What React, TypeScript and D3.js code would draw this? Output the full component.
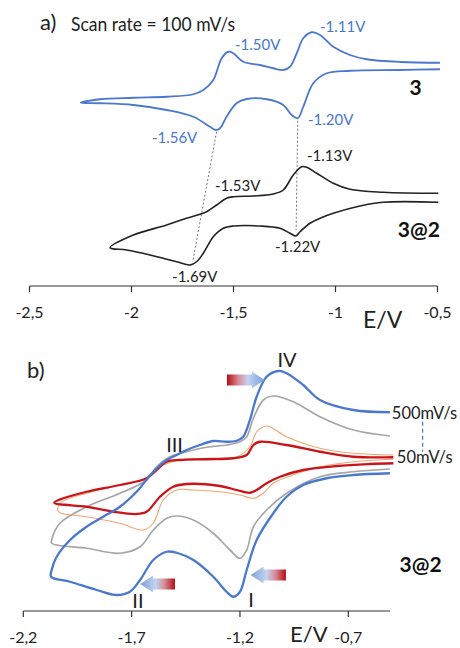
import React from 'react';
import * as d3 from 'd3';

type P = [number, number];

// ---------- Panel a) data (E in V, current in arbitrary units, stacked) ----------
const topTicks = [-2.5, -2, -1.5, -1, -0.5];
const botTicks = [-2.2, -1.7, -1.2, -0.7];

// compound 3 : from right end of upper branch -> left vertex -> right end of lower branch
const cv3: P[] = [
  [-0.488, 34.9], [-0.684, 35.2], [-0.848, 36.3], [-0.929, 38.0], [-1.011, 41.3], [-1.076, 46.0],
  [-1.117, 47.1], [-1.158, 44.7], [-1.190, 38.7], [-1.223, 33.3], [-1.256, 32.0], [-1.305, 32.7],
  [-1.370, 34.0], [-1.452, 35.3], [-1.501, 38.7], [-1.525, 39.3], [-1.558, 36.7], [-1.599, 28.0],
  [-1.648, 24.0], [-1.697, 22.3], [-1.828, 21.3], [-1.991, 20.9], [-2.154, 20.3], [-2.249, 18.9],
  [-2.154, 18.7], [-1.991, 18.0], [-1.828, 16.0], [-1.697, 13.3], [-1.615, 9.3], [-1.586, 8.0],
  [-1.566, 8.7], [-1.534, 13.3], [-1.485, 18.7], [-1.435, 20.4], [-1.337, 20.3], [-1.256, 18.0],
  [-1.215, 14.0], [-1.185, 12.7], [-1.158, 17.3], [-1.109, 26.7], [-1.043, 30.7], [-0.929, 31.7],
  [-0.684, 32.0], [-0.488, 32.3],
];

// 3@2
const cv32: P[] = [
  [-0.496, -17.3], [-0.766, -16.9], [-0.929, -15.7], [-1.011, -13.3], [-1.092, -9.3], [-1.141, -6.9],
  [-1.166, -6.7], [-1.207, -10.0], [-1.256, -16.0], [-1.305, -17.6], [-1.403, -18.4], [-1.501, -18.7],
  [-1.534, -19.3], [-1.583, -22.0], [-1.632, -24.7], [-1.664, -25.7], [-1.730, -27.3], [-1.828, -30.0],
  [-1.991, -34.0], [-2.105, -39.1],
  [-2.024, -40.0], [-1.909, -42.0], [-1.779, -44.7], [-1.713, -46.0], [-1.681, -44.7], [-1.648, -41.3],
  [-1.599, -34.7], [-1.550, -31.3], [-1.501, -30.4], [-1.370, -30.4], [-1.272, -31.3], [-1.223, -33.3],
  [-1.194, -34.4], [-1.174, -32.7], [-1.125, -29.3], [-1.076, -27.3], [-1.011, -25.3], [-0.880, -22.4],
  [-0.766, -20.9], [-0.496, -20.9],
];

const topPeakLabels = [
  { text: '-1.50V', E: -1.493, I: 40.0, series: '3' },
  { text: '-1.11V', E: -1.076, I: 47.2, series: '3' },
  { text: '-1.20V', E: -1.135, I: 10.0, series: '3' },
  { text: '-1.56V', E: -1.900, I: 2.8, series: '3' },
  { text: '-1.13V', E: -1.140, I: -4.4, series: '3@2' },
  { text: '-1.53V', E: -1.591, I: -16.4, series: '3@2' },
  { text: '-1.22V', E: -1.297, I: -40.8, series: '3@2' },
  { text: '-1.69V', E: -1.801, I: -52.8, series: '3@2' },
];

const guideLines = [
  { E1: -1.583, I1: 7.3, E2: -1.700, I2: -44.7 },
  { E1: -1.185, I1: 11.7, E2: -1.193, I2: -32.0 },
];

// ---------- Panel b) data (scan rates) ----------
const cv500: P[] = [
  [-0.508, 27.1], [-0.677, 28.0], [-0.831, 32.0], [-0.908, 38.0], [-0.985, 42.7], [-1.023, 43.6],
  [-1.077, 41.3], [-1.123, 33.3], [-1.154, 24.0], [-1.185, 17.3], [-1.215, 15.7], [-1.262, 15.3],
  [-1.323, 15.6], [-1.385, 14.0], [-1.446, 12.0], [-1.492, 10.0], [-1.538, 8.0], [-1.600, 3.3],
  [-1.677, -4.7], [-1.754, -10.7], [-1.831, -14.7], [-1.908, -18.7], [-1.984, -24.0], [-2.046, -30.7],
  [-2.069, -36.0], [-2.072, -38.7],
  [-1.984, -40.7], [-1.861, -44.0], [-1.769, -46.0], [-1.708, -44.7], [-1.661, -40.0], [-1.600, -32.0],
  [-1.538, -28.7], [-1.492, -29.1], [-1.415, -32.0], [-1.323, -38.7], [-1.262, -44.7], [-1.231, -46.7],
  [-1.200, -44.7], [-1.169, -36.0], [-1.123, -24.0], [-1.046, -13.3], [-0.985, -6.7], [-0.908, -2.0],
  [-0.800, 0.7], [-0.677, 2.0], [-0.508, 2.7],
];

const cv200: P[] = [
  [-0.508, 17.6], [-0.677, 20.0], [-0.831, 25.3], [-0.954, 31.3], [-1.046, 33.6], [-1.092, 32.0],
  [-1.138, 24.7], [-1.169, 17.3], [-1.200, 15.3], [-1.262, 14.0], [-1.354, 13.1], [-1.446, 11.3],
  [-1.523, 9.3], [-1.585, 5.3], [-1.631, 0.0], [-1.754, -5.3], [-1.908, -10.7], [-2.031, -17.3],
  [-2.069, -24.0], [-2.069, -25.3],
  [-1.908, -27.3], [-1.754, -29.3], [-1.661, -26.7], [-1.600, -20.0], [-1.538, -15.3], [-1.492, -14.4],
  [-1.415, -16.0], [-1.323, -21.3], [-1.246, -28.0], [-1.200, -31.3], [-1.169, -28.0], [-1.138, -18.7],
  [-1.077, -12.0], [-0.985, -5.3], [-0.831, 1.3], [-0.677, 3.3], [-0.508, 4.4],
];

const cv100: P[] = [
  [-0.492, 10.0], [-0.677, 10.7], [-0.831, 12.7], [-0.985, 17.3], [-1.077, 21.6], [-1.123, 19.3],
  [-1.154, 13.3], [-1.215, 9.3], [-1.354, 8.7], [-1.477, 8.0], [-1.569, 5.3], [-1.631, 0.7],
  [-1.754, -2.0], [-1.908, -5.3], [-2.031, -9.3], [-2.038, -12.7],
  [-1.908, -14.7], [-1.754, -17.3], [-1.646, -20.0], [-1.600, -17.3], [-1.554, -8.0], [-1.492, -4.0],
  [-1.415, -4.0], [-1.292, -4.7], [-1.200, -6.0], [-1.138, -7.3], [-1.092, -5.3], [-1.046, -1.3],
  [-0.954, 2.0], [-0.831, 5.3], [-0.677, 7.3], [-0.492, 8.3],
];

const cv50: P[] = [
  [-0.492, 9.1], [-0.677, 9.3], [-0.831, 11.3], [-0.985, 14.0], [-1.108, 15.3], [-1.138, 14.0],
  [-1.169, 10.0], [-1.231, 8.7], [-1.354, 8.3], [-1.477, 8.0], [-1.538, 7.3], [-1.585, 4.0],
  [-1.631, 0.7], [-1.754, -2.0], [-1.908, -4.7], [-2.015, -7.3], [-2.057, -9.1],
  [-1.908, -10.7], [-1.785, -12.7], [-1.677, -13.6], [-1.631, -12.7], [-1.569, -6.7], [-1.508, -2.7],
  [-1.446, -1.6], [-1.292, -2.4], [-1.215, -4.0], [-1.154, -5.1], [-1.123, -4.0], [-1.077, -1.3],
  [-1.015, 1.3], [-0.908, 4.0], [-0.754, 5.6], [-0.600, 6.4], [-0.492, 6.7],
];

const romanLabels = [
  { text: 'IV', E: -0.983, I: 45.2 },
  { text: 'III', E: -1.502, I: 11.2 },
  { text: 'II', E: -1.671, I: -51.2 },
  { text: 'I', E: -1.149, I: -50.8 },
];

const arrows = [
  { tail: [-1.260, 40.0] as P, tip: [-1.085, 40.0] as P },
  { tail: [-1.500, -41.6] as P, tip: [-1.661, -41.6] as P },
  { tail: [-0.988, -38.0] as P, tip: [-1.151, -38.0] as P },
];

const rateLabels = [
  { text: '500mV/s', E: -0.499, I: 24.4 },
  { text: '50mV/s', E: -0.476, I: 6.8 },
];
const rateBracket = { E: -0.357, I1: 23.3, I2: 11.3 };
const botAxisEnd = -0.508;

// ---------- styling ----------
const BLUE = '#4a78cf';
const FONT = 'Lato, "Open Sans", "Noto Sans", sans-serif';

const xTop = d3.scaleLinear().domain([-2.5, -0.5]).range([29.5, 437.5]);
const yTop = d3.scaleLinear().domain([-60, 60]).range([300, 0]);
const xBot = d3.scaleLinear().domain([-2.2, -0.7]).range([23.3, 348.3]);
const yBot = d3.scaleLinear().domain([-60, 60]).range([630, 330]);
const TOP_AXIS_Y = 286;
const BOT_AXIS_Y = 611;

const fmt = (t: number) => String(t).replace('.', ',');

function lineFor(xs: d3.ScaleLinear<number, number>, ys: d3.ScaleLinear<number, number>) {
  return d3
    .line<P>()
    .x((d) => xs(d[0]))
    .y((d) => ys(d[1]))
    .curve(d3.curveCatmullRom.alpha(0.5));
}

function arrowPath(x0: number, x1: number, y: number) {
  const dir = x1 > x0 ? 1 : -1;
  const bh = 5.5, hh = 8.5, hl = 13;
  const xb = x1 - dir * hl;
  return `M${x0},${y - bh}L${xb},${y - bh}L${xb},${y - hh}L${x1},${y}L${xb},${y + hh}L${xb},${y + bh}L${x0},${y + bh}Z`;
}

export default function App() {
  const lt = lineFor(xTop, yTop);
  const lb = lineFor(xBot, yBot);
  return (
    <svg
      width={460}
      height={648}
      style={{ position: 'absolute', left: 0, top: 0, background: '#fff' }}
      fontFamily={FONT}
    >
      <defs>
        {arrows.map((a, i) => (
          <linearGradient
            key={i}
            id={`ag${i}`}
            gradientUnits="userSpaceOnUse"
            x1={xBot(a.tail[0])}
            x2={xBot(a.tip[0])}
            y1={0}
            y2={0}
          >
            <stop offset="0" stopColor="#b50d12" />
            <stop offset="0.3" stopColor="#d88a98" />
            <stop offset="0.55" stopColor="#c4d3ef" />
            <stop offset="1" stopColor="#7aa0dc" />
          </linearGradient>
        ))}
      </defs>

      {/* ---------- Panel a ---------- */}
      <text x={40} y={30} fontSize={22} fill="#222">a)</text>
      <text x={71} y={31} fontSize={19} textLength={164} lengthAdjust="spacingAndGlyphs" fill="#222">
        Scan rate = 100 mV/s
      </text>

      {guideLines.map((g, i) => (
        <line
          key={i}
          x1={xTop(g.E1)}
          y1={yTop(g.I1)}
          x2={xTop(g.E2)}
          y2={yTop(g.I2)}
          stroke="#777"
          strokeWidth={1}
          strokeDasharray="2,2"
        />
      ))}
      <path d={lt(cv3) || ''} fill="none" stroke={BLUE} strokeWidth={1.8} />
      <path d={lt(cv32) || ''} fill="none" stroke="#222" strokeWidth={1.6} />

      {topPeakLabels.map((l, i) => (
        <text
          key={i}
          x={xTop(l.E)}
          y={yTop(l.I)}
          fontSize={15}
          fill={l.series === '3' ? BLUE : '#222'}
        >
          {l.text}
        </text>
      ))}
      <text x={xTop(-0.577)} y={yTop(22)} fontSize={21} fontWeight="bold" textAnchor="end" fill="#111">3</text>
      <text x={xTop(-0.488)} y={yTop(-34.9)} fontSize={21} fontWeight="bold" textAnchor="end" fill="#111">3@2</text>

      {/* top axis */}
      <g stroke="#333" strokeWidth={1.2}>
        <line x1={xTop.range()[0]} x2={xTop.range()[1]} y1={TOP_AXIS_Y} y2={TOP_AXIS_Y} />
        {topTicks.map((t) => (
          <line key={t} x1={xTop(t)} x2={xTop(t)} y1={TOP_AXIS_Y} y2={TOP_AXIS_Y + 6} />
        ))}
      </g>
      {topTicks.map((t) => (
        <text key={t} x={xTop(t)} y={TOP_AXIS_Y + 32} fontSize={16} textAnchor="middle" fill="#222">
          {fmt(t)}
        </text>
      ))}
      <text x={363} y={328} fontSize={23} fill="#222">E/V</text>

      {/* ---------- Panel b ---------- */}
      <text x={27} y={378} fontSize={22} fill="#222">b)</text>

      <path d={lb(cv200) || ''} fill="none" stroke="#a6a6a6" strokeWidth={1.7} />
      <path d={lb(cv100) || ''} fill="none" stroke="#f3a46f" strokeWidth={1.1} />
      <path d={lb(cv50) || ''} fill="none" stroke="#c9141a" strokeWidth={2.3} />
      <path d={lb(cv500) || ''} fill="none" stroke={BLUE} strokeWidth={2.3} />

      {arrows.map((a, i) => (
        <path key={i} d={arrowPath(xBot(a.tail[0]), xBot(a.tip[0]), yBot(a.tip[1]))} fill={`url(#ag${i})`} />
      ))}

      {romanLabels.map((l, i) => (
        <text key={i} x={xBot(l.E)} y={yBot(l.I)} fontSize={20} textAnchor="middle" fill="#222">
          {l.text}
        </text>
      ))}

      <line
        x1={xBot(rateBracket.E)}
        x2={xBot(rateBracket.E)}
        y1={yBot(rateBracket.I1)}
        y2={yBot(rateBracket.I2)}
        stroke={BLUE}
        strokeWidth={1.2}
        strokeDasharray="4,3"
      />
      {rateLabels.map((l, i) => (
        <text key={i} x={xBot(l.E)} y={yBot(l.I)} fontSize={16.5} fill="#222">
          {l.text}
        </text>
      ))}
      <text x={xBot(-0.269)} y={yBot(-36.8)} fontSize={21} fontWeight="bold" textAnchor="end" fill="#111">3@2</text>

      {/* bottom axis */}
      <g stroke="#333" strokeWidth={1.2}>
        <line x1={xBot(-2.2)} x2={xBot(botAxisEnd)} y1={BOT_AXIS_Y} y2={BOT_AXIS_Y} />
        {botTicks.map((t) => (
          <line key={t} x1={xBot(t)} x2={xBot(t)} y1={BOT_AXIS_Y} y2={BOT_AXIS_Y + 6} />
        ))}
      </g>
      {botTicks.map((t) => (
        <text key={t} x={xBot(t)} y={BOT_AXIS_Y + 32} fontSize={16} textAnchor="middle" fill="#222">
          {fmt(t)}
        </text>
      ))}
      <text x={290} y={642} fontSize={22} fill="#222">E/V</text>
    </svg>
  );
}
